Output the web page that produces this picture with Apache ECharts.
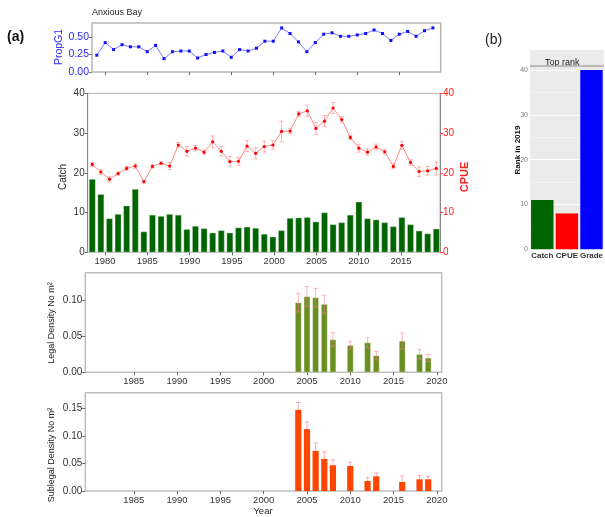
<!DOCTYPE html>
<html>
<head>
<meta charset="utf-8">
<script src="https://cdn.jsdelivr.net/npm/echarts@6/dist/echarts.min.js"></script>
<style>html,body{margin:0;padding:0;background:#fff}#c{width:605px;height:517px}</style>
</head>
<body>
<div id="c"></div>
<script>
// ---------- DATA ----------
const years = [1979,1980,1981,1982,1983,1984,1985,1986,1987,1988,1989,1990,1991,1992,1993,1994,1995,1996,1997,1998,1999,2000,2001,2002,2003,2004,2005,2006,2007,2008,2009,2010,2011,2012,2013,2014,2015,2016,2017,2018,2019];
const propG1 = [0.24,0.42,0.32,0.39,0.36,0.36,0.29,0.38,0.19,0.29,0.30,0.30,0.20,0.25,0.28,0.30,0.21,0.32,0.30,0.34,0.44,0.44,0.63,0.55,0.43,0.29,0.42,0.54,0.56,0.51,0.51,0.53,0.55,0.60,0.55,0.45,0.54,0.58,0.51,0.59,0.63];
const catchVals = [18.4,14.6,8.5,9.6,11.7,15.9,5.2,9.4,9.1,9.6,9.4,5.8,6.6,6.0,4.9,5.5,4.9,6.2,6.4,6.1,4.6,3.9,5.5,8.6,8.7,8.8,7.7,10.0,7.0,7.5,9.4,12.7,8.5,8.2,7.5,6.5,8.8,7.0,5.4,4.7,5.9];
const cpue = [22.1,20.2,18.4,19.8,21.1,21.7,17.8,21.6,22.4,21.7,27.0,25.4,26.2,25.2,27.8,25.4,22.8,22.9,26.7,24.9,26.6,27.0,30.4,30.5,34.8,35.6,31.2,33.0,36.3,33.4,28.9,26.2,25.2,26.5,25.3,21.6,26.9,22.6,20.3,20.5,21.1];
const cpueSE = [0.5,0.6,0.7,0.4,0.5,0.6,0.4,0.4,0.4,0.9,0.6,1.2,0.7,0.5,1.5,1.2,1.3,1.0,1.4,1.4,1.4,1.1,2.6,0.7,0.6,1.4,1.5,1.4,1.4,0.8,0.5,1.0,0.8,0.7,0.6,0.6,1.0,0.7,1.2,1.1,1.6];
const densYears = [2004,2005,2006,2007,2008,2010,2012,2013,2016,2018,2019];
const legal = [0.0972,0.1056,0.1042,0.0950,0.0456,0.0377,0.0414,0.0232,0.0437,0.0251,0.0200];
const legalSE = [0.013,0.014,0.013,0.0125,0.0097,0.0056,0.007,0.006,0.011,0.007,0.005];
const sublegal = [0.1478,0.1126,0.0730,0.0584,0.0469,0.0456,0.0182,0.0268,0.0164,0.0213,0.0213];
const sublegalSE = [0.0133,0.0133,0.0146,0.013,0.010,0.0067,0.0067,0.006,0.011,0.0073,0.0055];
const rankCats = ['Catch','CPUE','Grade'];
const rankVals = [11,8,40];
const topRank = 41;
const tickYearsA = [1980,1985,1990,1995,2000,2005,2010,2015];
const tickYearsB = [1985,1990,1995,2000,2005,2010,2015,2020];

// ---------- BUILD ----------
const FONT = 'Liberation Sans, Arial, sans-serif';
const pair = (xs, ys) => xs.map((x,i)=>[x, ys[i]]);
const errData = (xs, ys, es) => xs.map((x,i)=>[x, ys[i]-es[i], ys[i]+es[i]]);
function errRender(cap, color, w){
  return function(params, api){
    const x = api.value(0);
    const p1 = api.coord([x, api.value(1)]);
    const p2 = api.coord([x, api.value(2)]);
    const st = {stroke: color, lineWidth: w};
    return {type:'group', children:[
      {type:'line', shape:{x1:p1[0], y1:p1[1], x2:p2[0], y2:p2[1]}, style:st},
      {type:'line', shape:{x1:p1[0]-cap, y1:p1[1], x2:p1[0]+cap, y2:p1[1]}, style:st},
      {type:'line', shape:{x1:p2[0]-cap, y1:p2[1], x2:p2[0]+cap, y2:p2[1]}, style:st}
    ]};
  };
}
const lbl = (c, s) => ({color:c, fontSize:s, fontFamily:FONT});
const yearFmt = v => String(Math.round(v));

const chart = echarts.init(document.getElementById('c'), null, {renderer:'canvas'});
const option = {
  animation:false,
  backgroundColor:'#ffffff',
  textStyle:{fontFamily:FONT},
  grid:[
    {left:92, top:23, width:348.7, height:49, show:true, borderColor:'#b5b5b5', borderWidth:1.5, backgroundColor:'transparent'},
    {left:87.7, top:93.3, width:352.3, height:159, show:true, borderColor:'#b5b5b5', borderWidth:1, backgroundColor:'transparent'},
    {left:85.3, top:272.7, width:356.4, height:99.6, show:true, borderColor:'#c0c0c0', borderWidth:1.5, backgroundColor:'transparent'},
    {left:85.3, top:392.7, width:356.4, height:98.3, show:true, borderColor:'#c0c0c0', borderWidth:1.5, backgroundColor:'transparent'},
    {left:530, top:49.3, width:80, height:200, show:true, borderWidth:0, backgroundColor:'#ebebeb'}
  ],
  xAxis:[
    {gridIndex:0, type:'value', position:'bottom', min:1978.43, max:2019.93, axisLine:{show:false}, splitLine:{show:false},
      axisLabel:{show:false},
      axisTick:{show:true, length:3, lineStyle:{color:'#666'}, customValues:tickYearsA}},
    {gridIndex:1, type:'value', position:'top', min:1978.47, max:2019.43, show:false, splitLine:{show:false}},
    {gridIndex:1, type:'value', position:'bottom', min:1977.95, max:2019.61, axisLine:{show:false}, splitLine:{show:false},
      axisLabel:Object.assign(lbl('#333',9.5),{margin:4, customValues:tickYearsA, formatter:yearFmt}), axisTick:{length:3, lineStyle:{color:'#666'}, customValues:tickYearsA}},
    {gridIndex:2, type:'value', position:'bottom', min:1979.4, max:2020.56, axisLine:{show:false}, splitLine:{show:false},
      axisLabel:Object.assign(lbl('#333',9.5),{margin:4, customValues:tickYearsB, formatter:yearFmt}), axisTick:{length:3, lineStyle:{color:'#666'}, customValues:tickYearsB}},
    {gridIndex:3, type:'value', position:'bottom', min:1979.4, max:2020.56, axisLine:{show:false}, splitLine:{show:false},
      axisLabel:Object.assign(lbl('#333',9.5),{margin:4, customValues:tickYearsB, formatter:yearFmt}), axisTick:{length:3, lineStyle:{color:'#666'}, customValues:tickYearsB}},
    {gridIndex:4, type:'category', position:'bottom', data:rankCats, axisLine:{show:false}, axisTick:{show:false}, splitLine:{show:false},
      axisLabel:Object.assign(lbl('#333',8),{margin:2, fontWeight:'bold', interval:0})}
  ],
  yAxis:[
    {gridIndex:0, type:'value', min:0, max:0.70, axisLine:{show:false}, splitLine:{show:false},
      axisLabel:Object.assign(lbl('#2b2bff',10.5),{margin:3, customValues:[0,0.25,0.5], formatter:v=>v.toFixed(2)}),
      axisTick:{length:3, lineStyle:{color:'#777'}, customValues:[0,0.25,0.5]}},
    {gridIndex:1, type:'value', position:'left', min:0, max:40, interval:10, axisLine:{show:true, lineStyle:{color:'#888'}}, splitLine:{show:false},
      axisLabel:Object.assign(lbl('#333',10),{margin:3}), axisTick:{length:3, lineStyle:{color:'#666'}}},
    {gridIndex:1, type:'value', position:'right', min:0, max:40, interval:10, axisLine:{show:true, lineStyle:{color:'#888'}}, splitLine:{show:false},
      axisLabel:Object.assign(lbl('#ff2020',10),{margin:3}), axisTick:{length:3, lineStyle:{color:'#ff4040'}}},
    {gridIndex:2, type:'value', min:0, max:0.139, axisLine:{show:false}, splitLine:{show:false},
      axisLabel:Object.assign(lbl('#333',10),{margin:3, customValues:[0,0.05,0.10], formatter:v=>v.toFixed(2)}),
      axisTick:{length:3, lineStyle:{color:'#666'}, customValues:[0,0.05,0.10]}},
    {gridIndex:3, type:'value', min:0, max:0.179, axisLine:{show:false}, splitLine:{show:false},
      axisLabel:Object.assign(lbl('#333',10),{margin:3, customValues:[0,0.05,0.10,0.15], formatter:v=>v.toFixed(2)}),
      axisTick:{length:3, lineStyle:{color:'#666'}, customValues:[0,0.05,0.10,0.15]}},
    {gridIndex:4, type:'value', min:0, max:44.6, interval:10, axisLine:{show:false}, axisTick:{show:false},
      axisLabel:Object.assign(lbl('#7a7a7a',7),{margin:2, showMaxLabel:false}),
      splitLine:{show:true, lineStyle:{color:'#ffffff', width:1}},
      minorTick:{show:false, splitNumber:2}, minorSplitLine:{show:true, lineStyle:{color:'#f6f6f6', width:0.6}}}
  ],
  series:[
    {type:'line', xAxisIndex:0, yAxisIndex:0, data:pair(years, propG1), symbol:'rect', symbolSize:3,
      lineStyle:{color:'#7b7bff', width:1}, itemStyle:{color:'#1010ff'}},
    {type:'bar', xAxisIndex:1, yAxisIndex:1, data:pair(years, catchVals), barWidth:6.4,
      itemStyle:{color:'#006400', borderColor:'#cfe3cf', borderWidth:0.4}},
    {type:'custom', xAxisIndex:1, yAxisIndex:2, data:errData(years, cpue, cpueSE), encode:{x:0, y:[1,2]},
      renderItem:errRender(2.2, 'rgba(255,150,150,0.7)', 1), z:3},
    {type:'line', xAxisIndex:1, yAxisIndex:2, data:pair(years, cpue), symbol:'circle', symbolSize:3.2,
      lineStyle:{color:'#ff8a8a', width:1}, itemStyle:{color:'#ff0000'}, z:4},
    {type:'bar', xAxisIndex:3, yAxisIndex:3, data:pair(densYears, legal), barWidth:6.2,
      itemStyle:{color:'#6b8e23', borderColor:'#d9e6c8', borderWidth:0.4}, z:2},
    {type:'custom', xAxisIndex:3, yAxisIndex:3, data:errData(densYears, legal, legalSE), encode:{x:0, y:[1,2]},
      renderItem:errRender(2.2, 'rgba(255,120,140,0.55)', 1), z:3},
    {type:'custom', xAxisIndex:4, yAxisIndex:4, data:errData(densYears, sublegal, sublegalSE), encode:{x:0, y:[1,2]},
      renderItem:errRender(2.2, 'rgba(255,140,150,0.7)', 1), z:1},
    {type:'bar', xAxisIndex:4, yAxisIndex:4, data:pair(densYears, sublegal), barWidth:6.2,
      itemStyle:{color:'#ff4500'}, z:2},
    {type:'bar', xAxisIndex:5, yAxisIndex:5, barWidth:22.4,
      data:rankVals.map((v,i)=>({value:v, itemStyle:{color:['#006400','#ff0000','#0000ff'][i]}})),
      markLine:{silent:true, symbol:'none', label:{show:false}, lineStyle:{color:'#a8a8a8', width:1.5, type:'solid'},
        data:[{yAxis:topRank}]}}
  ],
  graphic:[
    {type:'text', x:7, y:37, style:{text:'(a)', font:'bold 14px '+FONT, fill:'#111', textVerticalAlign:'middle'}},
    {type:'text', x:485, y:40, style:{text:'(b)', font:'14px '+FONT, fill:'#222', textVerticalAlign:'middle'}},
    {type:'text', x:92, y:13, style:{text:'Anxious Bay', font:'9px '+FONT, fill:'#222', textVerticalAlign:'middle'}},
    {type:'text', x:59, y:47, rotation:Math.PI/2, style:{text:'PropG1', font:'10.5px '+FONT, fill:'#2b2bff', textAlign:'center', textVerticalAlign:'middle'}},
    {type:'text', x:63, y:177, rotation:Math.PI/2, style:{text:'Catch', font:'10px '+FONT, fill:'#222', textAlign:'center', textVerticalAlign:'middle'}},
    {type:'text', x:465, y:177, rotation:Math.PI/2, style:{text:'CPUE', font:'bold 11px '+FONT, fill:'#ff2020', textAlign:'center', textVerticalAlign:'middle'}},
    {type:'text', x:52, y:323, rotation:Math.PI/2, style:{text:'Legal Density No m²', font:'9px '+FONT, fill:'#222', textAlign:'center', textVerticalAlign:'middle'}},
    {type:'text', x:52, y:455, rotation:Math.PI/2, style:{text:'Sublegal Density No m²', font:'9px '+FONT, fill:'#222', textAlign:'center', textVerticalAlign:'middle'}},
    {type:'text', x:263, y:511, style:{text:'Year', font:'9.5px '+FONT, fill:'#222', textAlign:'center', textVerticalAlign:'middle'}},
    {type:'text', x:518, y:150, rotation:Math.PI/2, style:{text:'Rank in 2019', font:'bold 8px '+FONT, fill:'#111', textAlign:'center', textVerticalAlign:'middle'}},
    {type:'text', x:545, y:62.5, style:{text:'Top rank', font:'9px '+FONT, fill:'#222', textVerticalAlign:'middle'}}
  ]
};
chart.setOption(option);
</script>
</body>
</html>
